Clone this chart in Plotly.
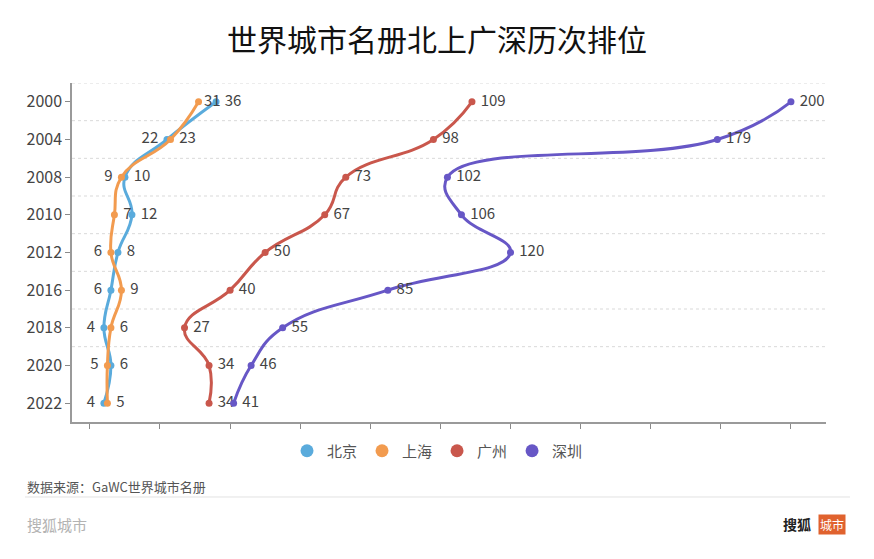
import plotly.graph_objects as go

years = ["2000", "2004", "2008", "2010", "2012", "2016", "2018", "2020", "2022"]
beijing = [36, 22, 10, 12, 8, 6, 4, 6, 4]
shanghai = [31, 23, 9, 7, 6, 9, 6, 5, 5]
guangzhou = [109, 98, 73, 67, 50, 40, 27, 34, 34]
shenzhen = [200, 179, 102, 106, 120, 85, 55, 46, 41]
x_ticks = [0, 20, 40, 60, 80, 100, 120, 140, 160, 180, 200]

FONT = "Noto Sans CJK SC, Noto Sans, sans-serif"
R, L = "middle right", "middle left"

series = [
    ("北京", beijing, "#5aabdc", [R, L, R, R, R, L, L, R, L], [1] * 9),
    ("上海", shanghai, "#f29b4f", [R, R, L, R, L, R, R, L, R], [0, 1, 1, 1, 1, 1, 1, 1, 1]),
    ("广州", guangzhou, "#c9574c", [R] * 9, [1] * 9),
    ("深圳", shenzhen, "#6757c6", [R] * 9, [1] * 9),
]

NB = "\u00a0"


def pad(v, p, n):
    return (NB * n + str(v)) if p == R else (str(v) + NB * n)


fig = go.Figure()
for name, vals, color, pos, gaps in series:
    fig.add_trace(go.Scatter(
        x=vals, y=years, mode="lines+markers+text",
        text=[pad(v, p, n) for v, p, n in zip(vals, pos, gaps)], textposition=pos,
        textfont=dict(size=15, color="#444", family=FONT),
        line=dict(color=color, width=3, shape="spline", smoothing=1.3),
        marker=dict(color=color, size=7),
        name=name, showlegend=False, cliponaxis=False,
    ))
for name, vals, color, pos, gaps in series:
    fig.add_trace(go.Scatter(
        x=[None], y=[None], mode="markers", name=name,
        marker=dict(color=color, size=13), showlegend=True,
    ))

shapes = []
for k in range(len(years) - 1):
    shapes.append(dict(type="line", xref="paper", x0=0, x1=1, yref="y",
                       y0=k - 0.5, y1=k - 0.5,
                       line=dict(color="#d9d9d9", width=1, dash="dot"), layer="below"))
# footer separator
shapes.append(dict(type="line", xref="paper", yref="paper",
                   x0=-0.0623, x1=1.0318, y0=-0.2212, y1=-0.2212,
                   line=dict(color="#e2e2e2", width=1)))

annotations = [
    dict(text="数据来源：GaWC世界城市名册", xref="paper", yref="paper",
         x=-0.0623, y=-0.1888, xanchor="left", yanchor="middle", showarrow=False,
         font=dict(size=13, color="#555", family=FONT)),
    dict(text="搜狐城市", xref="paper", yref="paper",
         x=-0.0623, y=-0.3009, xanchor="left", yanchor="middle", showarrow=False,
         font=dict(size=15, color="#b3b3b3", family=FONT)),
    dict(text="<b>搜狐</b>", xref="paper", yref="paper",
         x=(813 - 72) / 754, y=-0.3009, xanchor="right", yanchor="middle", showarrow=False,
         font=dict(size=14, color="#222", family=FONT)),
    dict(text="城市", xref="paper", yref="paper",
         x=(832 - 72) / 754, y=-0.3009, xanchor="center", yanchor="middle", showarrow=False,
         font=dict(size=12, color="#ffffff", family=FONT),
         bgcolor="#e0622e", borderpad=1),
]

fig.update_layout(
    width=874, height=559,
    margin=dict(l=72, r=48, t=83, b=137),
    paper_bgcolor="white", plot_bgcolor="white",
    font=dict(family=FONT),
    title=dict(text="世界城市名册北上广深历次排位", x=0.5, xref="container", xanchor="center",
               y=(559 - 40) / 559, yref="container", yanchor="middle",
               font=dict(size=30, color="#111", family=FONT)),
    showlegend=True,
    legend=dict(orientation="h", x=(437.5 - 72) / 754, xanchor="center",
                y=-0.0855, yanchor="middle", font=dict(size=15, color="#555", family=FONT),
                itemwidth=30),
    shapes=shapes, annotations=annotations,
    hovermode=False,
)
fig.update_xaxes(range=[-5.1, 210], tickvals=x_ticks, showticklabels=False,
                 ticks="outside", ticklen=5, tickcolor="#8a8a8a", tickwidth=1,
                 showline=True, linecolor="#9a9a9a", linewidth=1.5,
                 showgrid=False, zeroline=False)
fig.update_yaxes(type="category", categoryorder="array", categoryarray=years,
                 range=[len(years) - 0.5, -0.5],
                 ticks="outside", ticklen=5, tickcolor="#8a8a8a", tickwidth=1,
                 showline=True, linecolor="#9a9a9a", linewidth=1.5,
                 showgrid=False, zeroline=False,
                 tickfont=dict(size=16, color="#444", family=FONT))

fig.write_html("out.html", config={"displayModeBar": False},
               post_script="document.body.style.margin='0px';")
